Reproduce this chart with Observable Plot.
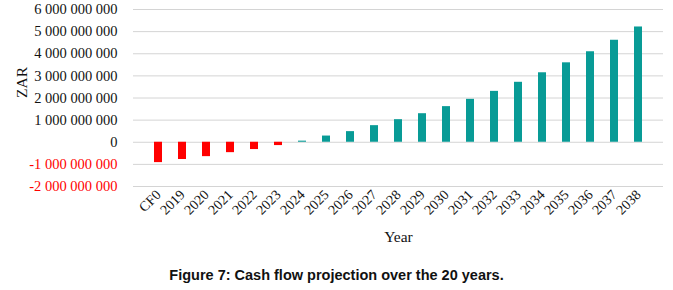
<!DOCTYPE html>
<html>
<head>
<meta charset="utf-8">
<script src="https://cdn.jsdelivr.net/npm/d3@7"></script>
<script src="https://cdn.jsdelivr.net/npm/@observablehq/plot@0.6"></script>
<style>
  html, body { margin: 0; padding: 0; background: #fff; }
  #chart { width: 673px; }
  #caption { width: 673px; text-align: center; font: bold 14.5px "Liberation Sans", Arial, sans-serif; color: #111; margin-top: 13px; }
</style>
</head>
<body>
<div id="chart"></div>
<div id="caption">Figure 7: Cash flow projection over the 20 years.</div>
<script>
const years = ["CF0","2019","2020","2021","2022","2023","2024","2025","2026","2027","2028","2029","2030","2031","2032","2033","2034","2035","2036","2037","2038"];
const cashFlow = [-920e6,-780e6,-650e6,-470e6,-330e6,-150e6,50e6,280e6,480e6,750e6,1020e6,1290e6,1610e6,1940e6,2300e6,2710e6,3140e6,3590e6,4090e6,4610e6,5210e6];
const yTicks = [-2e9,-1e9,0,1e9,2e9,3e9,4e9,5e9,6e9];
const negColor = "#ff0000";
const posColor = "#089b96";

const data = years.map((y, i) => ({year: y, value: cashFlow[i]}));
const fmt = v => (v < 0 ? "-" : "") + d3.format(",")(Math.abs(v)).replace(/,/g, " ");
const serif = '"Liberation Serif", "Times New Roman", serif';

const plot = Plot.plot({
  width: 673,
  height: 254,
  marginLeft: 133,
  marginRight: 10,
  marginTop: 9,
  marginBottom: 68,
  style: {fontFamily: serif, fontSize: "14.5px", color: "#111"},
  x: {domain: years, padding: 0.66, label: null},
  y: {domain: [-2e9, 6e9], label: null},
  marks: [
    Plot.gridY(yTicks, {stroke: "#d4d4d4", strokeOpacity: 1, strokeWidth: 1}),
    Plot.barY(data, {x: "year", y: "value", fill: d => d.value < 0 ? negColor : posColor}),
    Plot.axisY(yTicks.filter(v => v >= 0), {tickSize: 0, tickPadding: 16, tickFormat: fmt, fill: "#111", label: null, fontSize: "14.5px"}),
    Plot.axisY(yTicks.filter(v => v < 0), {tickSize: 0, tickPadding: 16, tickFormat: fmt, fill: negColor, label: null, fontSize: "14.5px"}),
    Plot.axisX({tickSize: 0, tickRotate: -45, tickPadding: 6, label: null, fontSize: "14px"}),
    Plot.text(["ZAR"], {frameAnchor: "left", dx: -111, rotate: -90, fontSize: 15.5, fill: "#111"}),
    Plot.text(["Year"], {frameAnchor: "bottom", dy: 55, fontSize: 15.5, fill: "#111"})
  ]
});
document.getElementById("chart").appendChild(plot);
</script>
</body>
</html>
